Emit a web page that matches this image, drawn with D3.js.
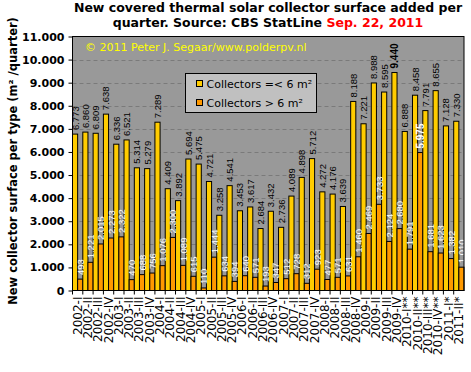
<!DOCTYPE html>
<html>
<head>
<meta charset="utf-8">
<script src="https://cdn.jsdelivr.net/npm/d3@7"></script>
<style>
body { margin: 0; background: #fff; }
svg { display: block; }
</style>
</head>
<body>
<div id="chart"></div>
<script>
var quarters = ["2002-I","2002-II","2002-III","2002-IV","2003-I","2003-II","2003-III","2003-IV",
  "2004-I","2004-II","2004-III","2004-IV","2005-I","2005-II","2005-III","2005-IV",
  "2006-I","2006-II","2006-III","2006-IV","2007-I","2007-II","2007-III","2007-IV",
  "2008-I","2008-II","2008-III","2008-IV","2009-I","2009-II","2009-III","2009-IV",
  "2010-I**","2010-II**","2010-III**","2010-IV**","2011-I*","2011-II*"];
var small = [6773,6860,6809,7638,6336,6521,5314,5279,7289,4409,3892,5694,5475,4721,3258,4541,
  3453,3617,2684,3432,2736,4089,4898,5712,4272,4176,3639,8188,7221,8988,8595,9440,
  6888,8458,7791,8655,7128,7330];
var large = [493,1221,2015,2273,2322,470,688,756,1076,2300,1089,615,110,1444,634,394,
  640,571,193,347,512,728,312,923,477,571,631,1460,2469,3733,2124,2680,
  1791,5975,1681,1623,1382,1010];
var yTicks = [0,1000,2000,3000,4000,5000,6000,7000,8000,9000,10000,11000];
var seriesNames = ["Collectors =< 6 m²", "Collectors > 6 m²"];

var W = 471, H = 372;
var m = {l: 72.5, t: 36.5, r: 464, b: 290.5};
var colYellow = "#ffcc00", colOrange = "#ff9900";

var loc = d3.formatLocale({decimal: ",", thousands: ".", grouping: [3], currency: ["", ""]});
var fmt = loc.format(",");

var svg = d3.select("#chart").append("svg").attr("width", W).attr("height", H);

// title
var title = svg.append("text").attr("x", 268).attr("text-anchor", "middle")
  .style("font-family", "DejaVu Sans").style("font-weight", "bold").style("font-size", "12.5px");
title.append("tspan").attr("x", 268).attr("y", 12).text("New covered thermal solar collector surface added per");
var t2 = title.append("tspan").attr("x", 268).attr("y", 27);
t2.append("tspan").text("quarter. Source: CBS StatLine ");
t2.append("tspan").attr("fill", "#ff0000").text("Sep. 22, 2011");

var x = d3.scaleBand().domain(quarters).range([m.l, m.r]).padding(0);
var xs = d3.scaleBand().domain([0, 1]).range([0, x.bandwidth()]).padding(0);
var y = d3.scaleLinear().domain([0, 11000]).range([m.b, m.t]);

// plot background
svg.append("rect").attr("x", m.l).attr("y", m.t).attr("width", m.r - m.l).attr("height", m.b - m.t)
  .attr("fill", "#999999");

// grid
svg.append("g").selectAll("line").data(yTicks.filter(function(d){ return d > 0 && d < 11000; }))
  .enter().append("line")
  .attr("x1", m.l).attr("x2", m.r)
  .attr("y1", function(d){ return Math.round(y(d)) + 0.5; })
  .attr("y2", function(d){ return Math.round(y(d)) + 0.5; })
  .attr("stroke", "#7a7a7a").attr("stroke-dasharray", "4,3");

// bars
var g = svg.append("g");
quarters.forEach(function(q, i){
  [small[i], large[i]].forEach(function(v, k){
    g.append("rect")
      .attr("x", x(q) + xs(k))
      .attr("y", y(v))
      .attr("width", xs.bandwidth())
      .attr("height", m.b - y(v))
      .attr("fill", k === 0 ? colYellow : colOrange)
      .attr("stroke", "#000").attr("stroke-width", 1);
  });
});

// value labels
var maxS = d3.max(small), maxL = d3.max(large);
quarters.forEach(function(q, i){
  [small[i], large[i]].forEach(function(v, k){
    var cx = x(q) + xs(k) + xs.bandwidth() / 2;
    var bold = (k === 0 && v === maxS) || (k === 1 && v === maxL);
    g.append("text")
      .attr("transform", "translate(" + (cx + 3.5) + "," + (y(v) - 4) + ") rotate(-90)")
      .style("font-family", "Liberation Sans, Arial").style("font-size", bold ? "10px" : "9.5px")
      .style("font-weight", bold ? "bold" : "normal")
      .attr("fill", k === 0 ? "#000" : "#fff")
      .text(fmt(v));
  });
});

// frame
svg.append("rect").attr("x", m.l).attr("y", m.t).attr("width", m.r - m.l).attr("height", m.b - m.t)
  .attr("fill", "none").attr("stroke", "#000").attr("stroke-width", 1);

// y axis
var yAxis = svg.append("g").attr("transform", "translate(" + m.l + ",0)")
  .call(d3.axisLeft(y).tickValues(yTicks).tickFormat(fmt).tickSize(4).tickPadding(4));
yAxis.select(".domain").remove();
yAxis.selectAll("text").style("font-family", "DejaVu Sans").style("font-weight", "bold")
  .style("font-size", "11px").attr("fill", "#000");

// x axis ticks on band boundaries
var xg = svg.append("g");
xg.selectAll("line").data(quarters).enter().append("line")
  .attr("x1", function(d){ return x(d); }).attr("x2", function(d){ return x(d); })
  .attr("y1", m.b).attr("y2", m.b + 4).attr("stroke", "#000");
xg.selectAll("text").data(quarters).enter().append("text")
  .attr("transform", function(d){ return "translate(" + (x(d) + x.bandwidth() / 2 + 4) + "," + (m.b + 6) + ") rotate(-90)"; })
  .attr("text-anchor", "end")
  .style("font-family", "DejaVu Sans").style("font-size", "12px")
  .text(function(d){ return d; });

// y title
svg.append("text")
  .attr("transform", "translate(16.5,161) rotate(-90)")
  .attr("text-anchor", "middle")
  .style("font-family", "DejaVu Sans").style("font-weight", "bold").style("font-size", "11.5px")
  .text("New  collector surface per type (m² /quarter)");

// copyright
svg.append("text").attr("x", 85).attr("y", 51)
  .style("font-family", "DejaVu Sans").style("font-size", "11px").attr("fill", "#ffff00")
  .text("© 2011 Peter J. Segaar/www.polderpv.nl");

// legend
var lg = svg.append("g").attr("transform", "translate(185.5,73.5)");
lg.append("rect").attr("width", 131).attr("height", 39).attr("fill", "#c0c0c0")
  .attr("stroke", "#000").attr("stroke-width", 1);
seriesNames.forEach(function(n, k){
  var yy = 10 + k * 19;
  lg.append("rect").attr("x", 11).attr("y", yy - 3).attr("width", 6).attr("height", 6)
    .attr("fill", k === 0 ? colYellow : colOrange).attr("stroke", "#000");
  lg.append("text").attr("x", 21).attr("y", yy + 4)
    .style("font-family", "DejaVu Sans").style("font-size", "11px").text(n);
});
</script>
</body>
</html>
